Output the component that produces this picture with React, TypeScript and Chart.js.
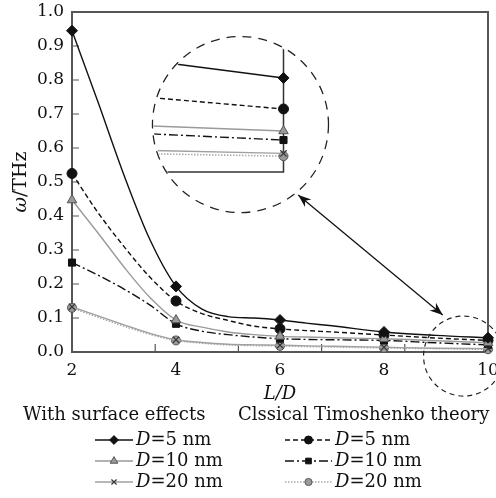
import React, { useEffect, useRef } from 'react';
import { Chart, registerables } from 'chart.js';
import { drawPoint } from 'chart.js/helpers';

Chart.register(...registerables);

// ---------------- data ----------------
const lengthRatio = [2, 2.5, 3, 3.5, 4, 4.5, 5, 5.5, 6, 6.5, 7, 8, 9, 10];
const markedRatio = [2, 4, 6, 8, 10];
const surfaceD5 = [0.945, 0.735, 0.52, 0.33, 0.193, 0.126, 0.104, 0.1, 0.094, 0.085, 0.077, 0.059, 0.049, 0.042];
const surfaceD10 = [0.447, 0.35, 0.25, 0.16, 0.094, 0.073, 0.059, 0.051, 0.046, 0.044, 0.042, 0.039, 0.033, 0.027];
const surfaceD20 = [0.133, 0.106, 0.08, 0.055, 0.036, 0.028, 0.023, 0.021, 0.02, 0.018, 0.017, 0.014, 0.011, 0.01];
const classicalD5 = [0.525, 0.41, 0.31, 0.22, 0.15, 0.113, 0.093, 0.076, 0.068, 0.063, 0.059, 0.05, 0.041, 0.034];
const classicalD10 = [0.263, 0.226, 0.185, 0.138, 0.083, 0.061, 0.051, 0.044, 0.039, 0.037, 0.036, 0.034, 0.027, 0.021];
const classicalD20 = [0.13, 0.102, 0.076, 0.052, 0.034, 0.026, 0.021, 0.019, 0.018, 0.016, 0.015, 0.012, 0.01, 0.008];

// magnified view (inset) near L/D = 10
const insetRatio = [9, 10];
const insetSurfaceD5 = [0.049, 0.0415];
const insetSurfaceD10 = [0.0203, 0.0181];
const insetSurfaceD20 = [0.0095, 0.0082];
const insetClassicalD5 = [0.0328, 0.0278];
const insetClassicalD10 = [0.0168, 0.0141];
const insetClassicalD20 = [0.008, 0.007];

const xMinorTicks = [3.6, 5.2, 6.8, 8.4];
const yMinorTicks = [0.1, 0.2, 0.3, 0.4, 0.5, 0.6, 0.7, 0.8, 0.9];
const legendHeaders = ['With surface effects', 'Clssical Timoshenko theory'];
const seriesLabels = ['=5 nm', '=10 nm', '=20 nm', '=5 nm', '=10 nm', '=20 nm'];

// ---------------- styles ----------------
const FONT = '"DejaVu Serif"';
const SERIES = [
  { data: surfaceD5, inset: insetSurfaceD5, col: 0, row: 0, line: '#111', width: 1.4, dash: [] as number[], style: 'rectRot', radius: 5.5, fill: '#111', stroke: '#111', bw: 1 },
  { data: surfaceD10, inset: insetSurfaceD10, col: 0, row: 1, line: '#9a9a9a', width: 1.4, dash: [] as number[], style: 'triangle', radius: 5.5, fill: '#9a9a9a', stroke: '#555', bw: 1 },
  { data: surfaceD20, inset: insetSurfaceD20, col: 0, row: 2, line: '#a0a0a0', width: 1.4, dash: [] as number[], style: 'crossRot', radius: 4.5, fill: '#333', stroke: '#333', bw: 1.2 },
  { data: classicalD5, inset: insetClassicalD5, col: 1, row: 0, line: '#111', width: 1.4, dash: [5, 3], style: 'circle', radius: 5, fill: '#111', stroke: '#111', bw: 1 },
  { data: classicalD10, inset: insetClassicalD10, col: 1, row: 1, line: '#111', width: 1.4, dash: [9, 3, 2, 3], style: 'rect', radius: 5, fill: '#111', stroke: '#111', bw: 1 },
  { data: classicalD20, inset: insetClassicalD20, col: 1, row: 2, line: '#aaa', width: 1.6, dash: [1.5, 1.5], style: 'circle', radius: 4.5, fill: '#9a9a9a', stroke: '#555', bw: 1 },
];

// annotation anchors (data coordinates) and sizes
const zoomCircle = { x: 5.24, y: 0.669, r: 88 };
const smallCircle = { x: 9.53, y: -0.012, r: 40 };
const arrowFrom = { x: 6.35, y: 0.462 };
const arrowTo = { x: 9.13, y: 0.109 };
const INSET_SIZE = 177;
const insetAxisOffset = { right: 43, bottom: 47.5 };

function arrowHead(ctx: CanvasRenderingContext2D, tx: number, ty: number, fx: number, fy: number) {
  const ang = Math.atan2(ty - fy, tx - fx);
  const L = 13, W = 5, N = 9;
  ctx.save();
  ctx.translate(tx, ty);
  ctx.rotate(ang);
  ctx.beginPath();
  ctx.moveTo(0, 0);
  ctx.lineTo(-L, -W);
  ctx.lineTo(-N, 0);
  ctx.lineTo(-L, W);
  ctx.closePath();
  ctx.fill();
  ctx.restore();
}

const framePlugin = {
  id: 'frame',
  beforeDatasetsDraw(chart: any) {
    const { ctx, chartArea: a, scales } = chart;
    ctx.save();
    ctx.strokeStyle = '#555';
    ctx.lineWidth = 2;
    ctx.strokeRect(a.left, a.top, a.right - a.left, a.bottom - a.top);
    ctx.lineWidth = 1.2;
    ctx.beginPath();
    xMinorTicks.forEach((v) => {
      const px = scales.x.getPixelForValue(v);
      ctx.moveTo(px, a.bottom);
      ctx.lineTo(px, a.bottom - 8);
    });
    yMinorTicks.forEach((v) => {
      const py = scales.y.getPixelForValue(v);
      ctx.moveTo(a.left, py);
      ctx.lineTo(a.left + 7, py);
    });
    ctx.stroke();
    ctx.restore();
  },
};

const decorPlugin = {
  id: 'decor',
  afterDraw(chart: any) {
    const { ctx, chartArea: a, scales } = chart;
    const xs = scales.x, ys = scales.y;
    ctx.save();
    // titles
    ctx.fillStyle = '#111';
    ctx.textBaseline = 'middle';
    ctx.font = `italic 18px ${FONT}`;
    ctx.textAlign = 'center';
    ctx.fillText('L/D', (a.left + a.right) / 2, 394);

    ctx.save();
    ctx.translate(21, (a.top + a.bottom) / 2);
    ctx.rotate(-Math.PI / 2);
    ctx.textAlign = 'left';
    ctx.font = `italic 19px ${FONT}`;
    const w1 = ctx.measureText('ω').width;
    ctx.font = `19px ${FONT}`;
    const w2 = ctx.measureText('/THz').width;
    const sx = -(w1 + w2) / 2;
    ctx.font = `italic 19px ${FONT}`;
    ctx.fillText('ω', sx, 0);
    ctx.font = `19px ${FONT}`;
    ctx.fillText('/THz', sx + w1, 0);
    ctx.restore();

    // dashed circles
    ctx.strokeStyle = '#222';
    ctx.lineWidth = 1.3;
    ctx.setLineDash([9, 7]);
    ctx.beginPath();
    ctx.arc(xs.getPixelForValue(zoomCircle.x), ys.getPixelForValue(zoomCircle.y), zoomCircle.r, 0, Math.PI * 2);
    ctx.stroke();
    ctx.setLineDash([5, 4]);
    ctx.lineWidth = 1.2;
    ctx.beginPath();
    ctx.arc(xs.getPixelForValue(smallCircle.x), ys.getPixelForValue(smallCircle.y), smallCircle.r, 0, Math.PI * 2);
    ctx.stroke();
    ctx.setLineDash([]);

    // arrow
    const ax1 = xs.getPixelForValue(arrowFrom.x), ay1 = ys.getPixelForValue(arrowFrom.y);
    const ax2 = xs.getPixelForValue(arrowTo.x), ay2 = ys.getPixelForValue(arrowTo.y);
    ctx.strokeStyle = '#111';
    ctx.fillStyle = '#111';
    ctx.lineWidth = 1.3;
    ctx.beginPath();
    ctx.moveTo(ax1, ay1);
    ctx.lineTo(ax2, ay2);
    ctx.stroke();
    arrowHead(ctx, ax1, ay1, ax2, ay2);
    arrowHead(ctx, ax2, ay2, ax1, ay1);

    // legend
    const cols = [
      { header: 23, from: 95, to: 133, text: 136 },
      { header: 238, from: 285, to: 332, text: 335 },
    ];
    const headerY = 415;
    const rowY = [440, 461, 482];
    ctx.fillStyle = '#111';
    ctx.textAlign = 'left';
    ctx.font = `18px ${FONT}`;
    legendHeaders.forEach((h, i) => ctx.fillText(h, cols[i].header, headerY));
    SERIES.forEach((s, i) => {
      const c = cols[s.col];
      const y = rowY[s.row];
      ctx.save();
      ctx.strokeStyle = s.line;
      ctx.lineWidth = s.width;
      ctx.setLineDash(s.dash);
      ctx.beginPath();
      ctx.moveTo(c.from, y);
      ctx.lineTo(c.to, y);
      ctx.stroke();
      ctx.setLineDash([]);
      ctx.fillStyle = s.fill;
      ctx.strokeStyle = s.stroke;
      ctx.lineWidth = s.bw;
      drawPoint(ctx, { pointStyle: s.style, radius: s.radius * 0.8, rotation: 0, borderWidth: s.bw } as any, (c.from + c.to) / 2, y);
      ctx.restore();
      ctx.fillStyle = '#111';
      ctx.font = `italic 18px ${FONT}`;
      ctx.fillText('D', c.text, y);
      const wd = ctx.measureText('D').width;
      ctx.font = `18px ${FONT}`;
      ctx.fillText(seriesLabels[i], c.text + wd, y);
    });
    ctx.restore();
  },
};

const insetFramePlugin = {
  id: 'insetFrame',
  beforeDatasetsDraw(chart: any) {
    const { ctx, scales } = chart;
    const px = scales.x.getPixelForValue(10);
    const py = scales.y.getPixelForValue(0);
    ctx.save();
    ctx.strokeStyle = '#333';
    ctx.lineWidth = 1.5;
    ctx.beginPath();
    ctx.moveTo(px, 0);
    ctx.lineTo(px, py);
    ctx.lineTo(0, py);
    ctx.stroke();
    ctx.restore();
  },
};

function makeDataset(s: any, xs: number[], ys: number[], marked: (x: number) => boolean) {
  return {
    data: xs.map((x, i) => ({ x, y: ys[i] })),
    borderColor: s.line,
    borderWidth: s.width,
    borderDash: s.dash,
    backgroundColor: s.fill,
    pointBackgroundColor: s.fill,
    pointBorderColor: s.stroke,
    pointBorderWidth: s.bw,
    pointStyle: s.style,
    pointRadius: (c: any) => (marked(xs[c.dataIndex]) ? s.radius : 0),
    cubicInterpolationMode: 'monotone',
    fill: false,
    clip: false,
  };
}

function noPad(sc: any) {
  sc.paddingLeft = 0;
  sc.paddingRight = 0;
  sc.paddingTop = 0;
  sc.paddingBottom = 0;
}

export default function App() {
  const mainRef = useRef<HTMLCanvasElement>(null);
  const insetRef = useRef<HTMLCanvasElement>(null);

  useEffect(() => {
    document.body.style.margin = '0';
    const main = new Chart(mainRef.current!, {
      type: 'line',
      data: {
        datasets: SERIES.map((s) => makeDataset(s, lengthRatio, s.data, (x) => markedRatio.includes(x))) as any,
      },
      options: {
        animation: false,
        responsive: false,
        devicePixelRatio: 1,
        events: [],
        layout: { autoPadding: false, padding: { top: 12, right: 8, left: 0, bottom: 0 } },
        plugins: { legend: { display: false }, tooltip: { enabled: false } },
        scales: {
          x: {
            type: 'linear',
            min: 2,
            max: 10,
            afterFit: (sc: any) => { sc.height = 146; noPad(sc); },
            ticks: { stepSize: 2, color: '#111', font: { family: 'DejaVu Serif', size: 17 }, padding: 8 },
            grid: { display: false, drawTicks: false },
            border: { display: false },
          },
          y: {
            type: 'linear',
            min: 0,
            max: 1,
            afterFit: (sc: any) => { sc.width = 72; noPad(sc); },
            ticks: {
              stepSize: 0.1,
              color: '#111',
              font: { family: 'DejaVu Serif', size: 17 },
              padding: 8,
              callback: (v: any) => Number(v).toFixed(1),
            },
            grid: { display: false, drawTicks: false },
            border: { display: false },
          },
        },
      } as any,
      plugins: [framePlugin, decorPlugin],
    });

    const xs = main.scales.x, ys = main.scales.y;
    const cx = xs.getPixelForValue(zoomCircle.x);
    const cy = ys.getPixelForValue(zoomCircle.y);
    const ic = insetRef.current!;
    const half = INSET_SIZE / 2;
    ic.style.left = `${cx - half}px`;
    ic.style.top = `${cy - half}px`;
    ic.style.clipPath = `circle(${zoomCircle.r - 1.2}px at ${half}px ${half}px)`;

    const inset = new Chart(ic, {
      type: 'line',
      data: {
        datasets: SERIES.map((s) => makeDataset(s, insetRatio, s.inset, (x) => x === 10)) as any,
      },
      options: {
        animation: false,
        responsive: false,
        devicePixelRatio: 1,
        events: [],
        layout: {
          autoPadding: false,
          padding: {
            left: 0,
            top: 0,
            right: INSET_SIZE - (half + insetAxisOffset.right),
            bottom: INSET_SIZE - (half + insetAxisOffset.bottom),
          },
        },
        plugins: { legend: { display: false }, tooltip: { enabled: false } },
        scales: {
          x: { type: 'linear', min: 9, max: 10, display: false },
          y: { type: 'linear', min: 0, max: 0.06, display: false },
        },
      } as any,
      plugins: [insetFramePlugin],
    });

    return () => {
      inset.destroy();
      main.destroy();
    };
  }, []);

  return (
    <div style={{ position: 'relative', width: 496, height: 498, background: '#fff' }}>
      <canvas ref={mainRef} width={496} height={498} style={{ display: 'block' }} />
      <canvas
        ref={insetRef}
        width={INSET_SIZE}
        height={INSET_SIZE}
        style={{ position: 'absolute', left: 0, top: 0, background: '#fff' }}
      />
    </div>
  );
}
